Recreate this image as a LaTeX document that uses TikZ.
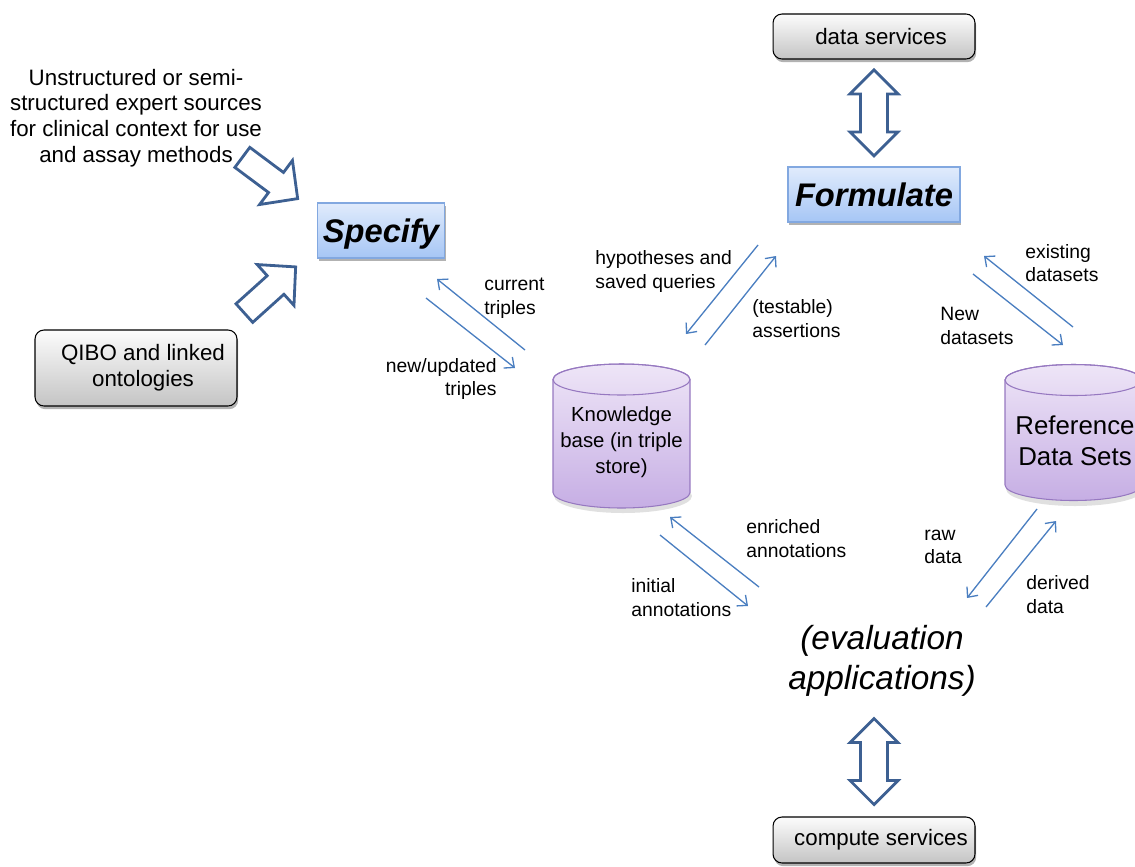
\documentclass[tikz,border=0pt]{standalone}
\usepackage{fontspec}
\setmainfont{Liberation Sans}
\usetikzlibrary{arrows.meta,shadows,calc}

\definecolor{blockblue}{RGB}{61,96,146}
\definecolor{flowblue}{RGB}{74,126,192}
\definecolor{stepedge}{RGB}{130,168,224}
\definecolor{steptop}{RGB}{224,235,252}
\definecolor{stepbot}{RGB}{166,198,245}
\definecolor{cyltop}{RGB}{238,229,247}
\definecolor{cylbot}{RGB}{198,174,228}
\definecolor{cyledge}{RGB}{150,120,192}
\definecolor{svctop}{RGB}{252,252,252}
\definecolor{svcbot}{RGB}{196,196,196}

% left indent used inside the grey service boxes
\newcommand{\svcindent}{\hspace*{0.28cm}}

\tikzset{
  softshadow/.style={drop shadow={shadow xshift=0.7pt, shadow yshift=-1.8pt, opacity=0.3, fill=black}},
  stepbox/.style={draw=stepedge, line width=0.7pt, top color=steptop, bottom color=stepbot,
    minimum height=1.1cm, inner sep=0pt, text depth=0pt,
    font=\fontsize{18.6}{22}\selectfont\bfseries\itshape, softshadow},
  svcbox/.style={draw=black, line width=0.6pt, rounded corners=0.18cm,
    top color=svctop, bottom color=svcbot, minimum width=4.04cm, inner sep=0pt,
    align=center, font=\fontsize{12.7}{14.7}\selectfont, softshadow},
  lbl/.style={inner sep=0pt, font=\fontsize{11}{13.4}\selectfont},
  flow/.style={draw=flowblue, line width=0.75pt, -{Straight Barb[length=4.5pt,width=8pt]}},
  bigarrow/.style={draw=blockblue, fill=white, line width=1.6pt, line join=miter},
  sglarrow/.pic={\path[bigarrow] (-34.5,-12.5) -- (7.5,-12.5) -- (7.5,-27.5) -- (34.5,0)
      -- (7.5,27.5) -- (7.5,12.5) -- (-34.5,12.5) -- cycle;},
  dblarrow/.pic={\path[bigarrow] (-43,0) -- (-19,-24) -- (-19,-13.5) -- (19,-13.5) -- (19,-24)
      -- (43,0) -- (19,24) -- (19,13.5) -- (-19,13.5) -- (-19,24) -- cycle;},
  cylbody/.style={draw=cyledge, line width=0.6pt, top color=cyltop, bottom color=cylbot},
}

\begin{document}
\begin{tikzpicture}[x=0.02cm, y=-0.02cm]
\path[use as bounding box] (0,0) rectangle (1135,866);
\clip (0,0) rectangle (1135,866);

% expert sources and the Specify step
\node[inner sep=0pt, align=center, font=\fontsize{12.7}{14.7}\selectfont] (src) at (136,118)
  {Unstructured or semi-\\structured expert sources\\for clinical context for use\\and assay methods};
\node[stepbox, minimum width=2.54cm] (specify) at (381,230.5) {Specify};
\node[svcbox, minimum height=1.52cm, text depth=0.1cm] (qibo) at (136,368)
  {\svcindent QIBO and linked\\\svcindent ontologies};
\pic[rotate=-36.7] at (270,178) {sglarrow};
\pic[rotate=42] at (270,290) {sglarrow};

% Formulate step and data services
\node[svcbox, minimum height=0.9cm] (data) at (874,36.5) {\svcindent data services};
\node[stepbox, minimum width=3.44cm] (formulate) at (874,194.5) {Formulate};
\pic[rotate=90] at ($(data.south)!0.5!(formulate.north)$) {dblarrow};

% knowledge base cylinder
\fill[black, opacity=0.12] (623,496) ellipse [x radius=1.38cm, y radius=0.34cm];
\path[cylbody] (553,379.5) -- (553,492.5)
  arc[start angle=180, end angle=360, x radius=1.37cm, y radius=0.31cm]
  -- (690,379.5) arc[start angle=0, end angle=180, x radius=1.37cm, y radius=0.31cm] -- cycle;
\draw[cyledge, line width=0.6pt] (621.5,379.5) ellipse [x radius=1.37cm, y radius=0.31cm];
\node[inner sep=0pt, align=center, font=\fontsize{11.6}{14.7}\selectfont] (kb) at (621.5,442)
  {Knowledge\\base (in triple\\store)};

% reference data sets cylinder
\fill[black, opacity=0.12] (1075,489) ellipse [x radius=1.38cm, y radius=0.34cm];
\path[cylbody] (1005,380) -- (1005,485)
  arc[start angle=180, end angle=360, x radius=1.37cm, y radius=0.31cm]
  -- (1142,380) arc[start angle=0, end angle=180, x radius=1.37cm, y radius=0.31cm] -- cycle;
\draw[cyledge, line width=0.6pt] (1073.5,380) ellipse [x radius=1.37cm, y radius=0.31cm];
\node[inner sep=0pt, align=center, font=\fontsize{14.7}{17.6}\selectfont] (ref) at (1075,441)
  {Reference\\Data Sets};

% evaluation applications and compute services
\node[inner sep=0pt, align=center, font=\fontsize{19}{22.7}\selectfont\itshape] (eval) at (882,661)
  {(evaluation\\applications)};
\node[svcbox, minimum height=0.92cm] (compute) at (874,840) {\svcindent compute services};
\pic[rotate=90] at (874,761.5) {dblarrow};

% arrow end points
\coordinate (ctA) at (525,350);  \coordinate (ctB) at (437,279);
\coordinate (nuA) at (426,298);  \coordinate (nuB) at (515,368);
\coordinate (hyA) at (758,245);  \coordinate (hyB) at (686,334);
\coordinate (teA) at (705,345);  \coordinate (teB) at (776,256);
\coordinate (exA) at (1073,327); \coordinate (exB) at (984,256);
\coordinate (ndA) at (973,274);  \coordinate (ndB) at (1063,345);
\coordinate (enA) at (759,587);  \coordinate (enB) at (670,517);
\coordinate (inA) at (660,535);  \coordinate (inB) at (748,606);
\coordinate (rwA) at (1037,509); \coordinate (rwB) at (967,598);
\coordinate (dvA) at (986,607);  \coordinate (dvB) at (1056,521);

\draw[flow] (ctA) -- (ctB);
\draw[flow] (nuA) -- (nuB);
\draw[flow] (hyA) -- (hyB);
\draw[flow] (teA) -- (teB);
\draw[flow] (exA) -- (exB);
\draw[flow] (ndA) -- (ndB);
\draw[flow] (enA) -- (enB);
\draw[flow] (inA) -- (inB);
\draw[flow] (rwA) -- (rwB);
\draw[flow] (dvA) -- (dvB);

% arrow labels
\node[lbl, anchor=west, align=left] (lct) at (484,298.5) {current\\triples};
\node[lbl, anchor=east, align=right] (lnu) at (497,379) {new/updated\\triples};
\node[lbl, anchor=west, align=left] (lhy) at (595,271.5) {hypotheses and\\saved queries};
\node[lbl, anchor=west, align=left] (lte) at (752,318.5) {(testable)\\assertions};
\node[lbl, anchor=west, align=left] (lex) at (1025,263) {existing\\datasets};
\node[lbl, anchor=west, align=left] (lnd) at (940,326) {New\\datasets};
\node[lbl, anchor=west, align=left] (len) at (746,538.5) {enriched\\annotations};
\node[lbl, anchor=west, align=left] (lin) at (631,597.5) {initial\\annotations};
\node[lbl, anchor=west, align=left] (lrw) at (924,547) {raw\\data};
\node[lbl, anchor=west, align=left] (ldv) at (1026,594.5) {derived\\data};
\end{tikzpicture}
\end{document}
